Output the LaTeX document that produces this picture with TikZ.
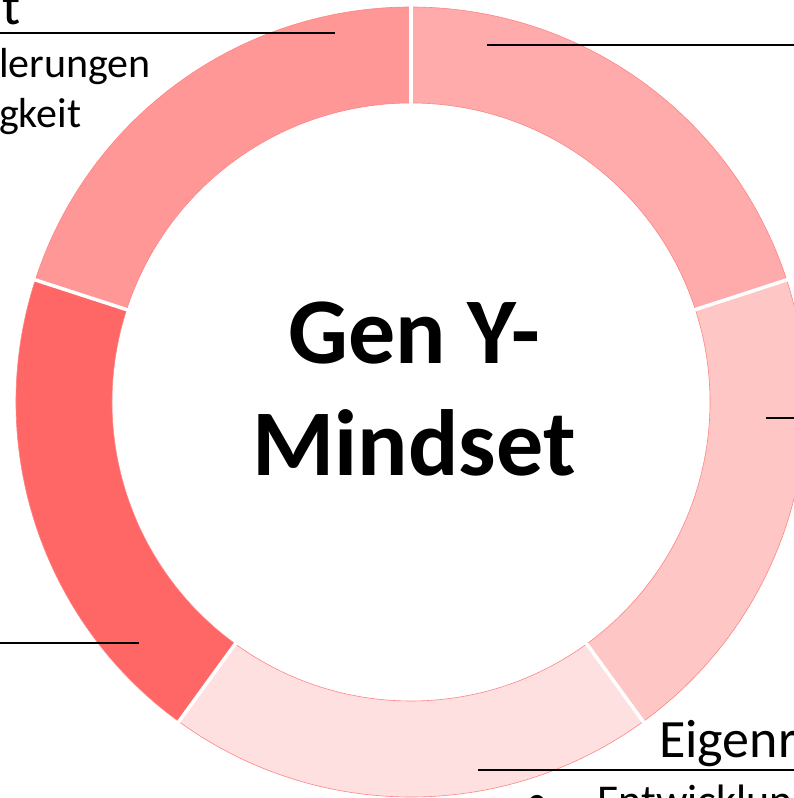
\documentclass[tikz,border=0pt]{standalone}
\usepackage{fontspec}
\setmainfont{Carlito}
\definecolor{segA}{HTML}{FF9797}
\definecolor{segB}{HTML}{FFABAB}
\definecolor{segC}{HTML}{FFC6C6}
\definecolor{segD}{HTML}{FFE0E0}
\definecolor{segE}{HTML}{FF6666}
\definecolor{segedge}{HTML}{FF8484}
\tikzset{
  leader/.style={draw=black,line width=1.6pt},
  title/.style={font=\fontsize{54}{64}\selectfont,inner sep=0pt,anchor=base west},
  item/.style={font=\fontsize{42}{50}\selectfont,inner sep=0pt,anchor=base west},
  gap/.style={draw=white,line width=3.5pt},
}
\newcommand{\ringseg}[3]{%
  \fill[#3,draw=segedge,line width=0.6pt] ([shift={(#1:395)}]c) arc[start angle=#1,end angle=#2,radius=395]
    -- ([shift={(#2:299)}]c) arc[start angle=#2,end angle=#1,radius=299] -- cycle;}
\begin{document}
\begin{tikzpicture}[x=1pt,y=1pt]
\useasboundingbox (0,0) rectangle (794,798);
\clip (0,0) rectangle (794,798);
\coordinate (c) at (411,396);
\ringseg{90}{162}{segA}
\ringseg{18}{90}{segB}
\ringseg{-54}{18}{segC}
\ringseg{-126}{-54}{segD}
\ringseg{162}{234}{segE}
\foreach \a in {90,18,-54,-126,162}
  \draw[gap] ([shift={(\a:296)}]c) -- ([shift={(\a:398)}]c);
\node[font=\bfseries\fontsize{94}{112}\selectfont,align=center] (mind) at (414,409) {Gen Y-\\Mindset};
% top-left label (cut)
\node[title] (tlt) at (2,773) {t};
\node[item] (tl1) at (-1,720) {lerungen};
\node[item] (tl2) at (-1,670) {gkeit};
\coordinate (tlA) at (-5,765);
\coordinate (tlB) at (335,765);
\draw[leader] (tlA) -- (tlB);
% top-right leader
\coordinate (trA) at (487,753);
\coordinate (trB) at (800,753);
\draw[leader] (trA) -- (trB);
% right leader
\coordinate (rA) at (766,380);
\coordinate (rB) at (800,380);
\draw[leader] (rA) -- (rB);
% left leader
\coordinate (lA) at (-5,155);
\coordinate (lB) at (139,155);
\draw[leader] (lA) -- (lB);
% bottom label (cut)
\node[title] (bt) at (659,40) {Eigenr};
\coordinate (bA) at (478,28);
\coordinate (bB) at (800,28);
\draw[leader] (bA) -- (bB);
\node[item,font=\fontsize{44}{52}\selectfont] (bb) at (526,-17) {•};
\node[item,font=\fontsize{44}{52}\selectfont] (bi) at (597,-17) {Entwicklung};
\end{tikzpicture}
\end{document}
